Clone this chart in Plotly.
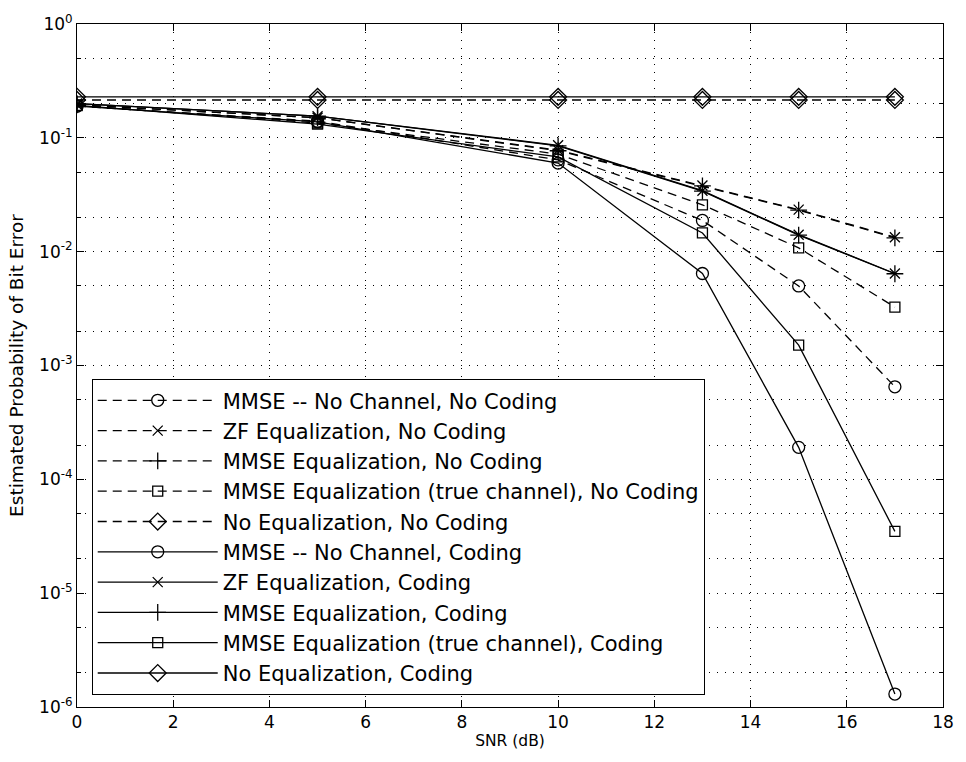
import plotly.graph_objects as go

snr = [0, 5, 10, 13, 15, 17]

mmse_nochan_nocode = [0.190, 0.140, 0.064, 0.0188, 0.0050, 0.00065]
zf_nocode = [0.195, 0.150, 0.078, 0.0381, 0.0234, 0.0134]
mmse_eq_nocode = [0.195, 0.150, 0.077, 0.0378, 0.0232, 0.0132]
mmse_true_nocode = [0.192, 0.135, 0.072, 0.0258, 0.0108, 0.00326]
noeq_nocode = [0.215, 0.215, 0.215, 0.215, 0.215, 0.215]
mmse_nochan_code = [0.190, 0.138, 0.060, 0.00643, 0.000191, 0.0000013]
zf_code = [0.200, 0.155, 0.086, 0.0343, 0.0141, 0.00643]
mmse_eq_code = [0.200, 0.155, 0.085, 0.0340, 0.0140, 0.00640]
mmse_true_code = [0.193, 0.132, 0.068, 0.0146, 0.00151, 0.0000349]
noeq_code = [0.229, 0.229, 0.229, 0.229, 0.229, 0.229]

names = [
    "MMSE -- No Channel, No Coding",
    "ZF Equalization, No Coding",
    "MMSE Equalization, No Coding",
    "MMSE Equalization (true channel), No Coding",
    "No Equalization, No Coding",
    "MMSE -- No Channel, Coding",
    "ZF Equalization, Coding",
    "MMSE Equalization, Coding",
    "MMSE Equalization (true channel), Coding",
    "No Equalization, Coding",
]
series = [mmse_nochan_nocode, zf_nocode, mmse_eq_nocode, mmse_true_nocode, noeq_nocode,
          mmse_nochan_code, zf_code, mmse_eq_code, mmse_true_code, noeq_code]
symbols = ["circle-open", "x-thin-open", "cross-thin-open", "square-open", "diamond-open"] * 2
sizes = [12, 10, 12, 10, 13] * 2
dashes = ["9px,6px"] * 5 + ["solid"] * 5

ytickvals = [1e-6, 1e-5, 1e-4, 1e-3, 1e-2, 1e-1, 1e0]
yticktext = ["10<sup>-6</sup>", "10<sup>-5</sup>", "10<sup>-4</sup>", "10<sup>-3</sup>",
             "10<sup>-2</sup>", "10<sup>-1</sup>", "10<sup>0</sup>"]

FONT = "DejaVu Sans, Liberation Sans, Arial, sans-serif"

fig = go.Figure()
for i, (nm, ys) in enumerate(zip(names, series)):
    fig.add_trace(go.Scatter(
        x=snr, y=ys, name=nm, mode="lines+markers",
        legendgroup=f"g{i}",
        line=dict(color="black", width=1.3, dash=dashes[i]),
        marker=dict(symbol=symbols[i], size=sizes[i], color="black",
                    line=dict(color="black", width=1.3)),
    ))

fig.update_layout(
    width=966, height=762,
    margin=dict(l=77, r=14, t=22, b=55),
    paper_bgcolor="white", plot_bgcolor="white",
    font=dict(family=FONT, color="black", size=17),
    showlegend=True,
    legend=dict(
        x=0.017, y=0.48, xanchor="left", yanchor="top",
        bgcolor="white", bordercolor="black", borderwidth=1,
        font=dict(size=21, family=FONT), itemwidth=120, tracegroupgap=0,
        traceorder="grouped",
    ),
    xaxis=dict(
        range=[0, 18], dtick=2, tick0=0,
        showline=True, linecolor="black", linewidth=1, mirror="ticks",
        ticks="inside", ticklen=7, tickcolor="black",
        showgrid=True, gridcolor="black", gridwidth=1, griddash="1px,7px",
        zeroline=False,
        title=dict(text="SNR (dB)", font=dict(size=15.5), standoff=3),
        tickfont=dict(size=17),
    ),
    yaxis=dict(
        type="log", range=[-6, 0],
        tickvals=ytickvals, ticktext=yticktext,
        showline=True, linecolor="black", linewidth=1, mirror="ticks",
        ticks="inside", ticklen=7, tickcolor="black",
        showgrid=True, gridcolor="black", gridwidth=1, griddash="1px,7px",
        zeroline=False,
        minor=dict(ticks="inside", ticklen=4, tickcolor="black", showgrid=True,
                   gridcolor="black", gridwidth=1, griddash="1px,7px"),
        title=dict(text="Estimated Probability of Bit Error", font=dict(size=18.5), standoff=10),
        tickfont=dict(size=17),
    ),
)

fig.write_html("out.html")
